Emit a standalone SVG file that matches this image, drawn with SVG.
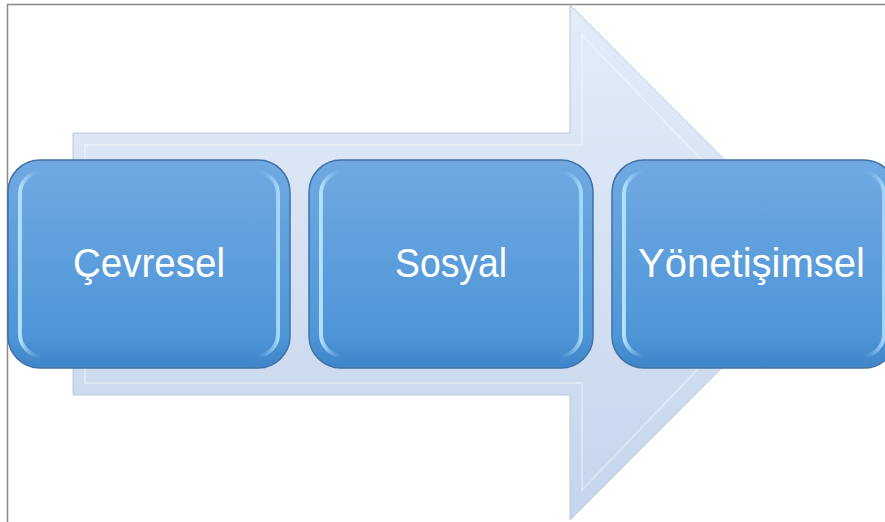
<svg xmlns="http://www.w3.org/2000/svg" width="885" height="522" viewBox="0 0 885 522">
<defs>
<linearGradient id="arrowG" x1="0" y1="0" x2="0" y2="1">
<stop offset="0" stop-color="#e3ecf9"/>
<stop offset="1" stop-color="#c6d5ec"/>
</linearGradient>
<linearGradient id="boxG" x1="0" y1="0" x2="0" y2="1">
<stop offset="0" stop-color="#70a9e2"/>
<stop offset="1" stop-color="#4892d6"/>
</linearGradient>
<linearGradient id="bevelG" x1="0" y1="0" x2="1" y2="0">
<stop offset="0" stop-color="#b4e2fb"/>
<stop offset="0.08" stop-color="#6fb0e6" stop-opacity="0"/>
<stop offset="0.92" stop-color="#6fb0e6" stop-opacity="0"/>
<stop offset="1" stop-color="#a6d8f6"/>
</linearGradient>
<linearGradient id="bottomG" x1="0" y1="0" x2="0" y2="1">
<stop offset="0.85" stop-color="#3a7cc0" stop-opacity="0"/>
<stop offset="1" stop-color="#3a7cc0" stop-opacity="0.6"/>
</linearGradient>
</defs>
<style>
.box{fill:url(#boxG);stroke:#3f72a6;stroke-width:1.5}
.bev{fill:none;stroke:url(#bevelG);stroke-width:4}
.bot{fill:url(#bottomG)}
.lbl{fill:#ffffff;font-family:"Liberation Sans","DejaVu Sans",sans-serif;font-size:40px;text-anchor:middle}
</style>
<rect width="885" height="522" fill="#ffffff"/>
<rect x="7.5" y="4.5" width="900" height="540" fill="none" stroke="#8a8a8a" stroke-width="1.5"/>
<g id="arrow">
<polygon points="73,133 570,133 570,5 827,262.5 570,520 570,395 73,395" fill="url(#arrowG)" stroke="#b9c8df" stroke-width="1"/>
<polygon points="85,145 582,145 582,35 800,262.5 582,490 582,383 85,383" fill="none" stroke="#ffffff" stroke-opacity="0.35" stroke-width="2"/>
</g>
<g id="connectors"></g>
<g id="node1">
<rect class="box" x="8" y="160" width="282" height="208" rx="32"/>
<rect class="bot" x="9" y="161" width="280" height="206" rx="31"/>
<rect class="bev" x="20" y="172" width="258" height="184" rx="22"/>
<text class="lbl" x="149" y="277" textLength="152" lengthAdjust="spacingAndGlyphs">Çevresel</text>
</g>
<g id="node2">
<rect class="box" x="309" y="160" width="284" height="208" rx="32"/>
<rect class="bot" x="310" y="161" width="282" height="206" rx="31"/>
<rect class="bev" x="321" y="172" width="260" height="184" rx="22"/>
<text class="lbl" x="451" y="277" textLength="112" lengthAdjust="spacingAndGlyphs">Sosyal</text>
</g>
<g id="node3">
<rect class="box" x="612" y="160" width="284" height="208" rx="32"/>
<rect class="bot" x="613" y="161" width="282" height="206" rx="31"/>
<rect class="bev" x="624" y="172" width="260" height="184" rx="22"/>
<text class="lbl" x="751.5" y="277" textLength="227" lengthAdjust="spacingAndGlyphs">Yönetişimsel</text>
</g>
</svg>
